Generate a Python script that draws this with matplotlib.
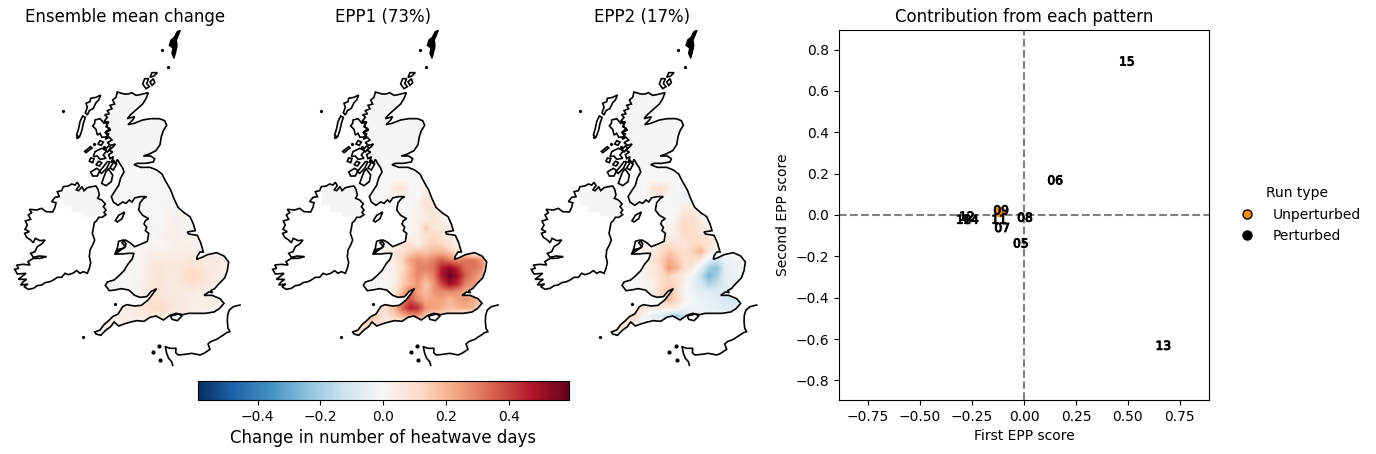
import numpy as np
import matplotlib
matplotlib.use("Agg")
import matplotlib.pyplot as plt
import matplotlib.patheffects as pe
from matplotlib.lines import Line2D
from matplotlib.patches import Polygon
from matplotlib.cm import ScalarMappable
from matplotlib.colors import Normalize

# Gridded values, hundredths of a heatwave day; columns west to east, rows north to south
grid_x = [288,312,336,360,384,408,432,456,480,504,528,552,576,600,624,648,672,696]
grid_y = [456,480,504,528,552,576,600,624,648,672,696,720,744,768,792,816,840,864,888,912,936,960]

mean_change = [
[0,0,0,0,0,0,0,0,0,0,0,0,0,0,0,0,0,0],
[0,0,0,0,0,0,0,0,0,0,0,0,0,0,0,0,0,0],
[0,0,0,0,0,0,0,0,0,0,0,0,0,0,0,0,0,0],
[0,0,0,0,0,0,0,0,0,0,0,0,0,0,0,0,0,0],
[0,0,0,0,0,0,0,0,0,1,1,0,0,0,0,0,0,0],
[0,0,0,0,0,0,0,0,0,2,2,1,0,0,0,0,0,0],
[0,0,0,0,0,0,0,0,0,2,3,2,0,0,0,0,0,0],
[0,0,0,0,0,0,0,0,1,3,3,2,1,0,0,0,0,0],
[0,0,0,0,0,0,0,0,2,3,3,2,2,1,0,0,0,0],
[0,0,0,0,0,0,1,2,1,2,3,3,3,2,0,0,0,0],
[0,0,0,0,0,1,2,3,3,3,4,4,4,3,1,0,0,0],
[0,0,0,0,1,1,3,5,6,6,6,6,7,6,5,5,4,0],
[0,0,0,0,0,1,3,6,8,7,6,8,10,9,6,5,4,0],
[0,0,0,0,0,1,3,6,8,6,6,9,12,10,7,5,3,0],
[0,0,0,0,0,1,3,6,8,5,6,7,9,8,5,4,0,0],
[0,0,0,0,0,1,4,7,7,5,6,5,5,4,4,3,0,0],
[0,0,0,0,0,1,5,9,9,7,6,5,4,3,4,4,0,0],
[0,0,0,3,4,5,8,10,11,8,6,6,4,4,3,2,0,0],
[0,2,2,4,4,5,5,6,7,5,4,3,2,0,0,0,0,0],
[1,3,3,3,2,2,0,0,0,0,0,0,0,0,0,0,0,0],
[2,2,1,0,0,0,0,0,0,0,0,0,0,0,0,0,0,0],
[0,0,0,0,0,0,0,0,0,0,0,0,0,0,0,0,0,0],
]

epp1 = [
[0,0,0,0,0,0,0,0,0,0,0,0,0,0,0,0,0,0],
[0,0,0,0,0,0,0,0,0,0,0,0,0,0,0,0,0,0],
[0,0,0,0,0,6,8,2,0,2,3,0,0,0,0,0,0,0],
[0,0,0,0,0,3,4,1,0,6,3,0,0,0,0,0,0,0],
[0,0,0,0,0,0,0,0,2,10,6,1,0,0,0,0,0,0],
[0,0,0,0,0,0,0,0,2,6,8,2,0,0,0,0,0,0],
[0,0,0,0,0,0,0,0,3,5,8,4,1,0,0,0,0,0],
[0,0,0,0,0,0,0,0,3,16,6,6,3,0,0,0,0,0],
[0,0,0,0,0,0,0,2,4,8,12,8,5,1,0,0,0,0],
[0,0,0,0,0,0,8,10,3,12,14,12,8,3,0,0,0,0],
[0,0,0,0,3,6,10,14,18,16,20,20,16,8,6,0,0,0],
[0,0,0,1,3,4,12,24,28,26,30,36,30,28,32,32,26,0],
[0,0,0,0,2,3,10,20,30,30,32,46,52,44,32,32,28,0],
[0,0,0,0,1,3,12,22,28,24,30,48,58,50,34,28,22,0],
[0,0,0,0,1,3,14,20,26,16,26,40,50,44,28,26,16,0],
[0,1,0,0,0,6,18,32,24,18,26,28,28,26,22,20,0,0],
[0,0,0,0,0,6,28,38,28,22,24,24,20,24,26,22,16,0],
[0,0,0,8,12,18,34,46,44,26,24,22,18,20,22,20,0,0],
[0,10,18,14,6,14,20,24,26,16,12,10,8,0,0,0,0,0],
[6,12,12,10,4,4,0,0,0,0,0,0,0,0,0,0,0,0],
[8,8,4,0,0,0,0,0,0,0,0,0,0,0,0,0,0,0],
[0,0,0,0,0,0,0,0,0,0,0,0,0,0,0,0,0,0],
]

epp2 = [
[0,0,0,0,0,0,0,0,0,0,0,0,0,0,0,0,0,0],
[0,0,0,0,0,0,0,0,0,0,0,0,0,0,0,0,0,0],
[0,0,0,0,0,8,10,4,0,-2,-3,0,0,0,0,0,0,0],
[0,0,0,0,0,3,6,0,0,-5,-2,0,0,0,0,0,0,0],
[0,0,0,0,0,0,0,0,1,3,1,0,0,0,0,0,0,0],
[0,0,0,0,0,0,0,0,2,7,8,2,0,0,0,0,0,0],
[0,0,0,0,0,0,0,0,3,10,10,5,0,0,0,0,0,0],
[0,0,0,0,0,0,0,1,6,12,10,7,3,0,0,0,0,0],
[0,0,0,0,0,0,0,3,5,10,10,9,6,1,0,0,0,0],
[0,0,0,0,1,1,8,10,8,8,12,12,10,4,0,0,0,0],
[0,0,0,0,2,4,10,16,12,10,14,20,6,-2,-1,0,0,0],
[0,0,0,2,2,6,14,22,16,10,10,6,-6,-12,-4,-3,-1,0],
[0,0,0,0,3,6,12,26,20,10,6,-6,-20,-24,-6,-3,-2,0],
[0,0,0,0,2,5,10,14,8,4,-2,-14,-28,-20,-6,-4,-2,0],
[0,0,0,0,2,3,10,14,10,2,-5,-10,-18,-14,-6,-4,0,0],
[0,1,0,0,0,4,12,18,10,0,-4,-6,-8,-8,-8,-8,0,0],
[0,0,0,0,0,2,14,18,12,2,-2,-4,-4,-6,-10,-11,-6,0],
[0,0,1,8,8,4,6,6,4,-2,-3,-3,-5,-6,-8,-9,0,0],
[0,4,12,10,-2,-6,-8,-14,-22,-10,-5,-4,-2,0,0,0,0,0],
[2,8,6,2,0,0,0,-2,0,0,0,0,0,0,0,0,0,0],
[3,2,1,0,0,0,0,0,0,0,0,0,0,0,0,0,0,0],
[0,0,0,0,0,0,0,0,0,0,0,0,0,0,0,0,0,0],
]

great_britain = [
(352,216),(372,222),(385,222),(395,218),(408,226),(420,224),(445,218),(438,236),(428,252),(410,268),(392,284),(382,296),(404,290),(398,300),(384,314),(402,310),
(428,300),(452,296),(478,296),(494,302),(500,316),(490,332),(484,350),(480,374),(468,392),(448,402),(430,408),(452,408),(464,416),(460,426),
(436,430),(412,430),(402,434),(422,442),(450,442),(470,450),(486,462),(496,482),(512,510),(522,536),(534,562),(552,578),(570,590),(580,612),
(586,632),(562,636),(566,642),(592,646),(602,668),(610,696),(600,696),(592,708),(590,718),(606,712),(622,704),(650,698),(672,708),(686,726),(682,752),(674,774),(658,790),
(644,806),(632,812),(638,818),(626,816),(612,826),(636,826),(660,836),(672,850),(658,866),(642,876),(616,880),(590,880),(566,880),(548,884),(528,880),(510,886),
(490,900),(468,888),(450,892),(432,904),(410,902),(392,906),(372,912),(356,918),(342,906),(332,920),(318,930),(302,946),(288,942),(284,936),
(300,930),(312,914),(326,902),(338,890),(354,882),(368,860),(380,854),(404,858),(424,856),(444,840),(458,822),(470,806),(454,814),(440,830),
(420,832),(404,826),(386,810),(364,806),(344,810),(328,812),(316,796),(322,786),(342,780),(358,766),(372,752),(384,732),(396,718),(402,700),
(386,700),(366,702),(346,702),(362,690),(376,680),(366,668),(376,660),(390,668),(404,680),(424,672),(442,664),(446,640),(436,632),(440,622),(432,612),(436,602),
(446,596),(428,586),(416,570),(420,548),(430,536),(440,530),(420,530),(404,534),(396,546),(388,540),(378,550),(368,546),(354,556),(340,546),(334,530),(344,514),
(356,496),(362,474),(372,456),(368,444),(360,432),(352,418),(346,432),(340,420),(334,428),(340,410),(330,416),(326,404),(338,396),(326,390),(340,380),(346,372),
(332,376),(322,368),(336,360),(328,352),(316,358),(326,342),(316,336),(330,326),(318,320),(326,306),(312,304),(322,292),(314,284),(328,282),(322,272),(336,266),
(330,256),(344,252),(338,240),(348,232),
]
ireland = [
(232,487),(238,497),(228,510),(236,512),(246,500),(252,512),(262,503),(275,500),(288,498),(294,508),(298,525),(293,535),(305,540),(316,552),(310,560),(318,570),(312,578),(318,584),
(306,592),(296,592),(290,602),(283,608),(280,625),(277,640),(284,660),(278,675),(270,690),(268,710),(272,728),(268,745),(262,760),(250,755),(240,760),(230,752),(218,760),(205,764),
(195,760),(185,772),(172,772),(160,780),(150,785),(135,788),(125,795),(112,797),(100,805),(85,808),(72,800),(84,792),(62,795),(70,785),(80,778),(55,778),(68,768),(78,760),(52,762),
(44,748),(56,745),(50,735),(70,733),(90,735),(84,725),(100,715),(120,715),(140,710),(118,708),(100,712),(92,700),(105,695),(112,680),(125,672),(135,660),(120,662),(106,655),(100,668),
(92,660),(80,652),(74,640),(88,635),(75,628),(82,615),(76,603),(92,598),(85,585),(95,578),(88,568),(110,570),(125,565),(138,575),(158,576),(165,562),(168,548),(155,545),(165,532),
(178,530),(172,515),(185,512),(190,500),(205,498),(215,492),(225,495),
]
ni_patch = [(190,510),(310,500),(325,590),(250,590),(250,576),(214,576),(214,556),(190,556)]
france = [(720,855),(700,860),(688,870),(683,885),(682,905),(684,925),(690,935),(680,938),(670,945),(650,958),(632,965),(624,972),(630,988),(612,1000),(600,1005),(575,1000),(555,1003),(535,1005),(527,998),(528,985),(510,985),(496,980),(500,1000),(506,1015),(515,1025),(518,1036)]
shetland = [(541,30),(535,46),(529,60),(531,78),(527,96),(522,115),(516,100),(519,84),(508,76),(513,60),(523,52),(531,36)]
islands = [
[(472,158),(462,168),(450,172),(456,158)],
[(446,176),(434,176),(428,192),(438,206),(448,200),(440,190)],
[(460,176),(450,186),(456,196),(464,188)],
[(302,225),(296,240),(288,248),(280,265),(268,272),(262,285),(256,278),(262,262),(258,250),(270,245),(272,235),(288,232)],
[(248,288),(256,292),(250,310),(246,330),(238,352),(230,345),(236,325),(240,305)],
[(285,300),(300,296),(312,310),(318,305),(322,322),(332,330),(316,338),(325,350),(306,352),(300,340),(292,345),(288,328),(278,318),(284,310)],
[(285,395),(305,385),(320,392),(310,405),(318,415),(300,418),(292,408),(280,410)],
[(254,394),(272,380),(276,384),(258,398)],
[(300,362),(310,366),(304,376),(294,372)],
[(326,378),(334,384),(322,396),(316,388)],
[(272,414),(282,416),(278,428),(268,424)],
[(330,425),(320,445),(305,460),(298,455),(312,438),(322,425)],
[(342,424),(350,432),(340,450),(330,444)],
[(290,445),(300,452),(292,468),(278,468),(272,456)],
[(296,424),(306,428),(298,438),(288,434)],
[(325,447),(338,465),(334,485),(318,497),(305,490),(312,470),(318,455)],
[(374,576),(366,596),(352,606),(346,602),(356,586)],
[(356,664),(370,660),(378,672),(372,684),(356,688),(344,704),(352,684)],
[(512,888),(536,882),(546,888),(532,902),(516,898)],
]
small_islets = [(190,273),(505,142),(485,90),(250,952),(346,851),(312,380),(282,372),(232,352)]
channel_islands = [(458,996),(480,1020),(477,978)]

# Scatter panel values
member_labels = ["15","06","13","08","05","07","11","09","12","14","10"]
first_epp = [0.495,0.15,0.67,0.005,-0.015,-0.105,-0.12,-0.11,-0.275,-0.255,-0.29]
second_epp = [0.74,0.165,-0.635,-0.015,-0.14,-0.065,-0.025,0.02,-0.01,-0.025,-0.025]
unperturbed_first = [-0.115]
unperturbed_second = [0.015]

W, H = 1376, 454
fig = plt.figure(figsize=(W/100, H/100), dpi=100)

def pixel_axes(x0, y0, x1, y1):
    return fig.add_axes([x0/W, 1-y1/H, (x1-x0)/W, (y1-y0)/H])

norm = Normalize(-0.59, 0.59)
cmap = "RdBu_r"
titles = ["Ensemble mean change", "EPP1 (73%)", "EPP2 (17%)"]
fields = [mean_change, epp1, epp2]
offsets = [0, 258, 516.7]
extent = [grid_x[0]-12, grid_x[-1]+12, grid_y[-1]+12, grid_y[0]-12]
for title, field, off in zip(titles, fields, offsets):
    ax = pixel_axes(off, 30, off+250, 370)
    ax.set_axis_off()
    ax.set_title(title, fontsize=12, pad=6)
    gb_fill = Polygon(great_britain, closed=True, fc="#f5f5f5", ec="none", zorder=1)
    ax.add_patch(gb_fill)
    ie_clip = Polygon(ireland, closed=True, transform=ax.transData, fc="none", ec="none")
    ax.add_patch(ie_clip)
    ni = Polygon(ni_patch, closed=True, fc="#f5f5f5", ec="none", zorder=1)
    ax.add_patch(ni)
    ni.set_clip_path(ie_clip)
    im = ax.imshow(np.array(field)/100, extent=extent, cmap=cmap, norm=norm,
                   interpolation="bilinear", aspect="auto", zorder=2)
    clip = Polygon(great_britain, closed=True, transform=ax.transData)
    im.set_clip_path(clip)
    for shape in [great_britain, ireland] + islands:
        ax.add_patch(Polygon(shape, closed=True, fc="none", ec="black", lw=1.2, zorder=3))
    ax.add_patch(Polygon(shetland, closed=True, fc="black", ec="black", lw=1.0, zorder=3))
    fx, fy = zip(*france)
    ax.plot(fx, fy, color="black", lw=1.2, zorder=3)
    ix, iy = zip(*small_islets)
    ax.plot(ix, iy, ls="none", marker="o", ms=1.3, color="black", zorder=3)
    cx, cy = zip(*channel_islands)
    ax.plot(cx, cy, ls="none", marker="o", ms=2, color="black", zorder=3)
    ax.set_xlim(0, 750)
    ax.set_ylim(1050, 30)

# colour bar
cax = pixel_axes(198, 381, 568.5, 400)
cb = fig.colorbar(ScalarMappable(norm=norm, cmap=cmap), cax=cax, orientation="horizontal")
cb.set_ticks([-0.4, -0.2, 0.0, 0.2, 0.4])
cb.ax.tick_params(labelsize=10)
cb.set_label("Change in number of heatwave days", fontsize=12)

# scatter
sax = pixel_axes(839, 30, 1209, 400)
sax.axhline(0, color="gray", ls="--", lw=1.5, zorder=1)
sax.axvline(0, color="gray", ls="--", lw=1.5, zorder=1)
sax.scatter(unperturbed_first, unperturbed_second, s=60, color="darkorange", edgecolor="none", zorder=2)
for lab, x, y in zip(member_labels, first_epp, second_epp):
    sax.text(x, y, lab, ha="center", va="center", fontsize=8.8, zorder=3,
             path_effects=[pe.withStroke(linewidth=0.7, foreground="black")])
sax.set_xlim(-0.89, 0.89)
sax.set_ylim(-0.895, 0.895)
sax.set_xticks([-0.75, -0.5, -0.25, 0, 0.25, 0.5, 0.75])
sax.set_xticklabels(["\u22120.75", "\u22120.50", "\u22120.25", "0.00", "0.25", "0.50", "0.75"])
sax.set_yticks([-0.8, -0.6, -0.4, -0.2, 0, 0.2, 0.4, 0.6, 0.8])
sax.set_xlabel("First EPP score", fontsize=10)
sax.set_ylabel("Second EPP score", fontsize=10)
sax.set_title("Contribution from each pattern", fontsize=12, pad=6)

handles = [
    Line2D([], [], ls="none", marker="o", ms=6.5, mfc="darkorange", mec="black", label="Unperturbed"),
    Line2D([], [], ls="none", marker="o", ms=6.5, mfc="black", mec="black", label="Perturbed"),
]
fig.legend(handles=handles, title="Run type", frameon=False, fontsize=10, title_fontsize=10,
           loc="center left", bbox_to_anchor=(1221/W, 1-214.5/H), labelspacing=0.53, handletextpad=0.83)

fig.savefig("out.png", dpi=100)
